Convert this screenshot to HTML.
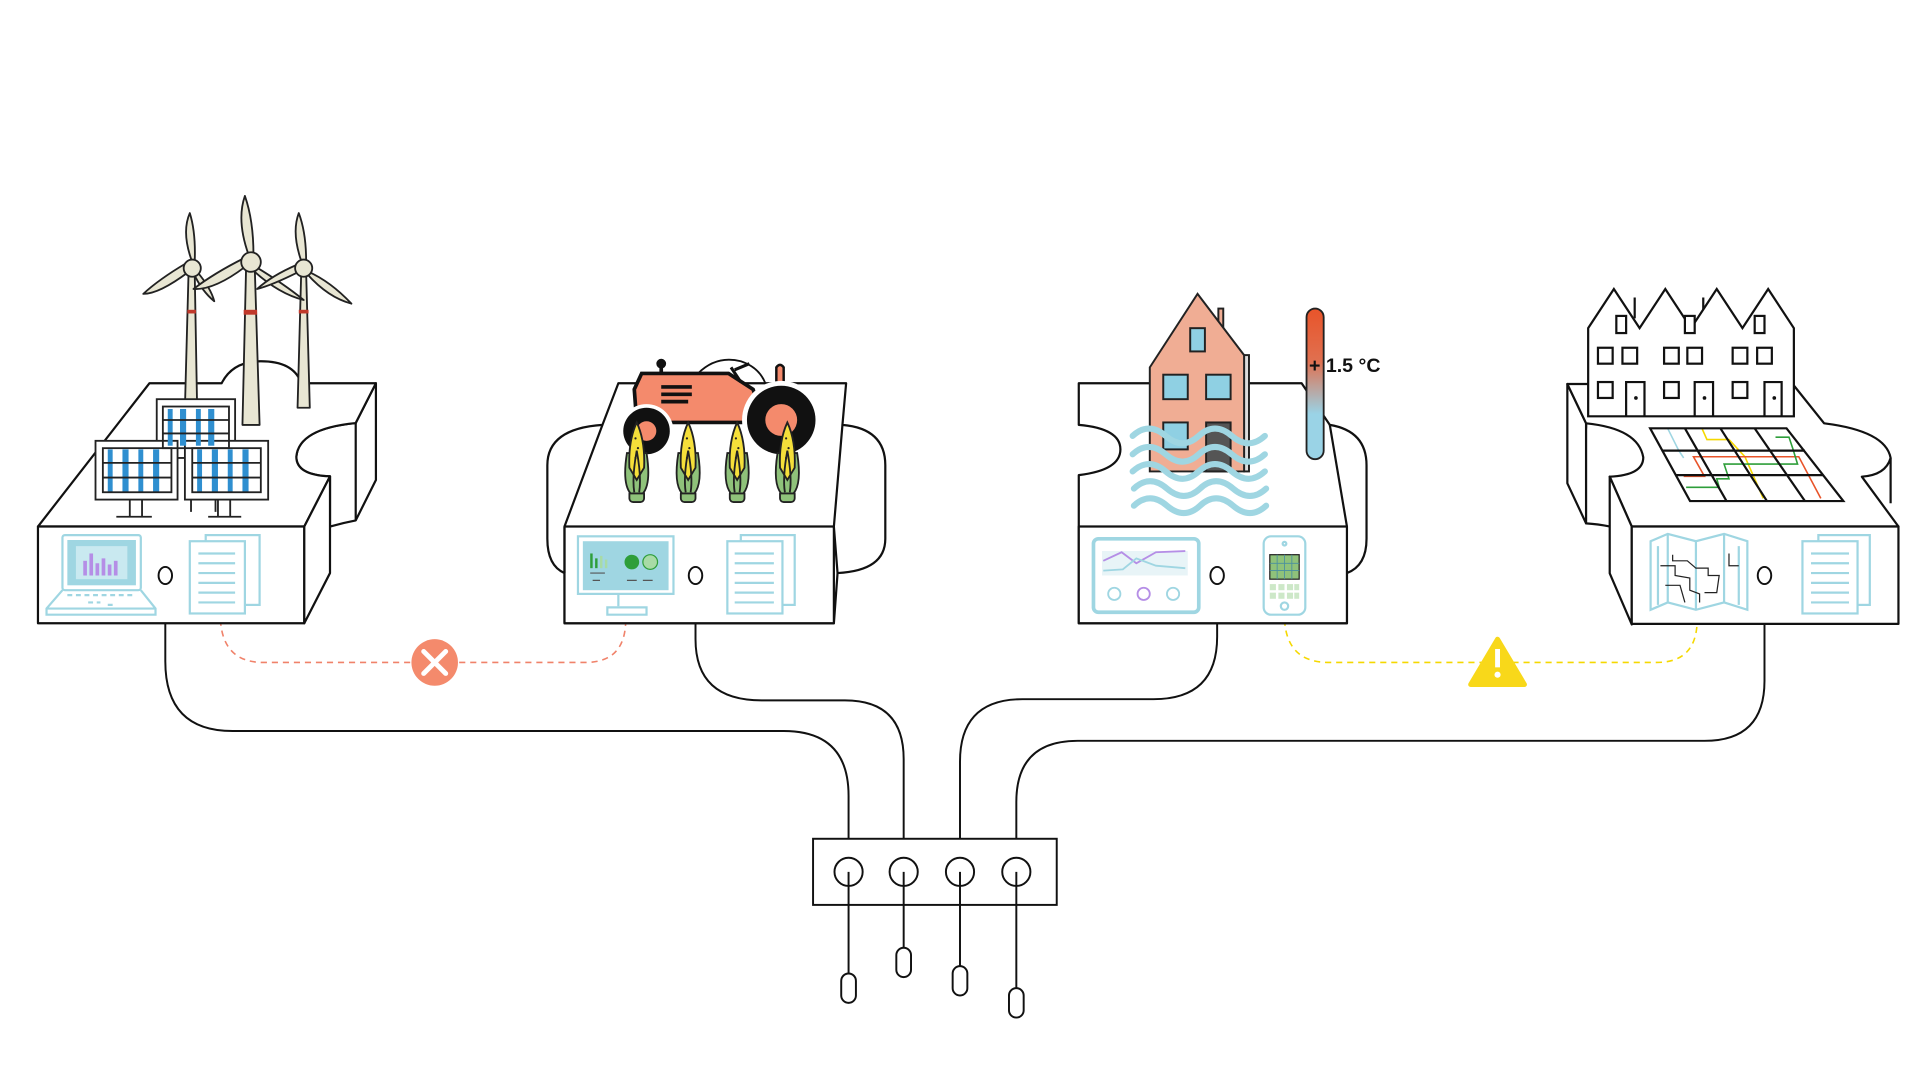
<!DOCTYPE html>
<html><head><meta charset="utf-8"><style>
html,body{margin:0;padding:0;background:#fff;width:1920px;height:1080px;overflow:hidden}
svg{display:block}
</style></head><body>
<svg width="1920" height="1080" viewBox="0 0 1568 882" preserveAspectRatio="none" xmlns="http://www.w3.org/2000/svg">
<defs>
<linearGradient id="th" x1="0" y1="0" x2="0" y2="1"><stop offset="0" stop-color="#e8542a"/><stop offset="0.35" stop-color="#e07050"/><stop offset="0.7" stop-color="#9ad3e6"/><stop offset="1" stop-color="#9ad3e6"/></linearGradient>
</defs>
<g fill="none" stroke="#111" stroke-width="1.6">
<path d="M135,476 V540 Q135,597 190,597 H640 Q693,597 693,650 V685"/>
<path d="M568,476 V522 Q568,572 622,572 H690 Q738,572 738,620 V685"/>
<path d="M994,476 V520 Q994,571 942,571 H835 Q784,571 784,622 V685"/>
<path d="M1441,476 V556 Q1441,605 1392,605 H880 Q830,605 830,655 V685"/>
<rect x="664" y="685" width="199" height="54"/>
<circle cx="693" cy="712" r="11.5"/><circle cx="738" cy="712" r="11.5"/><circle cx="784" cy="712" r="11.5"/><circle cx="830" cy="712" r="11.5"/>
<path d="M693,712V795M738,712V774M784,712V789M830,712V807"/>
<rect x="687" y="795" width="12" height="24" rx="6"/><rect x="732" y="774" width="12" height="24" rx="6"/><rect x="778" y="789" width="12" height="24" rx="6"/><rect x="824" y="807" width="12" height="24" rx="6"/>
</g>
<path d="M180,506 Q182,541 215,541 H478 Q511,541 511,506" fill="none" stroke="#f0826a" stroke-width="1.3" stroke-dasharray="5,4"/>
<path d="M1049,506 Q1051,541 1085,541 H1353 Q1386,541 1386,506" fill="none" stroke="#f5d800" stroke-width="1.3" stroke-dasharray="5,4"/>
<circle cx="355" cy="541" r="19" fill="#f48a6c"/>
<path d="M346,532L364,550M364,532L346,550" stroke="#fff" stroke-width="4" stroke-linecap="round"/>
<path d="M1223,522 L1245,559 H1201 Z" fill="#f8d81a" stroke="#f8d81a" stroke-width="4" stroke-linejoin="round"/>
<rect x="1221" y="530" width="4" height="15" fill="#fff"/><circle cx="1223" cy="551" r="2.5" fill="#fff"/>

<g stroke="#111" stroke-width="1.8" fill="#fff" stroke-linejoin="round">
<path d="M290.5,345.5 L307,313 V392 L290.5,425 Q280,427 269.5,430 V389 Q242,388 242,373 Q244,350 290.5,345.5 Z"/>
<path d="M31,430 L122,313 H181 Q190,295 213,295 Q240,295 246,313 H307 L290.5,345.5 Q244,350 242,373 Q242,388 269.5,389 L248.5,430 Z"/>
<path d="M290.5,345.5 V425"/>
<rect x="31" y="430" width="217.5" height="79"/>
<path d="M248.5,430 L269.5,389 V468 L248.5,509 Z"/>
<path d="M461,468 Q447,462 447,440 V380 Q447,350 492,347 L505,313 H691 L688,347 Q723,350 723,380 V440 Q723,466 684,468 L681,509 H461 Z"/>
<path d="M492,347 L461,430 M688,347 L681,430"/>
<rect x="461" y="430" width="220" height="79"/>
<path d="M461,430 V468 M681,430 L684,468"/>
<path d="M881,313 H1063 L1086,347 Q1116,352 1116,380 V440 Q1116,462 1100,468 V509 H881 V388 Q915,384 915,367 Q915,350 881,347 Z"/>
<path d="M1086,347 L1100,430"/>
<rect x="881" y="430" width="219" height="79"/>
<path d="M1280,313.6 L1295.3,345.7 V427.4 L1280,394.7 Z"/>
<path d="M1295.3,345.7 V427.4 Q1305,428 1315,430"/>
<path d="M1544,374 V411" fill="none"/>
<path d="M1280,313.6 H1464 L1489.7,345.7 Q1540,352 1544,374 Q1540,388 1520.5,389.3 L1550.4,430 H1332.6 L1314.6,389.3 Q1342,388 1342,373.5 Q1338,350 1295.3,345.7 Z"/>
<path d="M1314.6,389.3 V468.2 L1332.6,510 V430 Z"/>
<rect x="1332.6" y="430" width="217.8" height="79.5"/>
</g>
<g fill="#fff" stroke="#111" stroke-width="1.6">
<ellipse cx="135" cy="470" rx="5.5" ry="7"/><ellipse cx="568" cy="470" rx="5.5" ry="7"/><ellipse cx="994" cy="470" rx="5.5" ry="7"/><ellipse cx="1441" cy="470" rx="5.5" ry="7"/>
</g>

<g fill="#e8e6d3" stroke="#222" stroke-width="1.5" stroke-linejoin="round">
<path d="M154,222 L151,334 H161 L159,222 Z"/><path d="M201,217 L198,347 H212 L208,217 Z"/><path d="M246,222 L243,333 H253 L250,222 Z"/>
<g><path d="M157,214 Q148,190 155,174 Q160,190 159,214Z"/><path d="M154,222 Q130,240 117,240 Q130,228 152,215Z"/><path d="M161,222 Q172,235 175,246 Q165,238 158,223Z"/><circle cx="157" cy="219" r="7"/></g>
<g><path d="M203,208 Q193,180 200,160 Q207,180 207,208Z"/><path d="M200,218 Q175,237 158,236 Q175,223 199,211Z"/><path d="M209,218 Q232,232 248,245 Q228,240 208,222Z"/><circle cx="205" cy="214" r="8"/></g>
<g><path d="M246,213 Q238,190 244,174 Q250,190 250,213Z"/><path d="M244,222 Q222,233 210,236 Q222,225 243,216Z"/><path d="M252,222 Q270,230 287,248 Q268,243 251,224Z"/><circle cx="248" cy="219" r="7"/></g>
</g>
<g fill="#c0392b"><rect x="153" y="253" width="7" height="3"/><rect x="199" y="253" width="11" height="4"/><rect x="244" y="253" width="8" height="3"/></g>
<g stroke="#222" stroke-width="1.5">
<path d="M156,374V418M176,374V418M106,408V422M116,408V422M178,408V422M188,408V422" fill="none"/>
<path d="M95,422H124M170,422H197" fill="none"/>
<rect x="128" y="326" width="64" height="48" fill="#fff"/>
<rect x="78" y="360" width="67" height="48" fill="#fff"/>
<rect x="151" y="360" width="68" height="48" fill="#fff"/>
</g>
<g fill="#2f8fd0">
<rect x="137" y="334" width="4" height="30"/><rect x="147" y="334" width="5" height="30"/><rect x="160" y="334" width="4" height="30"/><rect x="170" y="334" width="5" height="30"/>
<rect x="88" y="367" width="4" height="35"/><rect x="100" y="367" width="5" height="35"/><rect x="113" y="367" width="4" height="35"/><rect x="125" y="367" width="5" height="35"/>
<rect x="161" y="367" width="4" height="35"/><rect x="173" y="367" width="5" height="35"/><rect x="186" y="367" width="4" height="35"/><rect x="198" y="367" width="5" height="35"/>
</g>
<g stroke="#222" stroke-width="1.5" fill="none">
<rect x="133" y="332" width="54" height="34"/><path d="M133,343H187M133,354H187"/>
<rect x="84" y="366" width="56" height="36"/><path d="M84,378H140M84,390H140"/>
<rect x="157" y="366" width="56" height="36"/><path d="M157,378H213M157,390H213"/>
</g>
<g stroke="#111" stroke-width="2">
<path d="M540,298V322" stroke-width="3"/><circle cx="540" cy="297" r="3" fill="#111"/>
<path d="M570,305 Q585,290 605,295 Q620,300 625,313" fill="none" stroke-width="1.5"/>
<path d="M634,312V300 Q637,296 640,300V312" fill="#f48a6c" stroke-width="2"/>
<path d="M524,305 H595 L615,318 L625,345 H520 L518,318 Z" fill="#f48a6c" stroke-width="3"/>
<path d="M540,316H565M540,322H565M540,328H562" stroke-width="3"/>
<path d="M597,300 L605,312M600,302L612,297" stroke-width="2.5"/>
</g>
<circle cx="528" cy="352" r="22" fill="#fff"/><circle cx="528" cy="352" r="19" fill="#111"/><circle cx="528" cy="352" r="8" fill="#f48a6c"/>
<circle cx="638" cy="343" r="32" fill="#fff"/><circle cx="638" cy="343" r="28" fill="#111"/><circle cx="638" cy="343" r="13" fill="#f48a6c"/>
<g stroke="#222" stroke-width="1.5">
<g transform="translate(520,0)"><rect x="-6" y="400" width="12" height="10" rx="3" fill="#8fc27a"/><path d="M-8,370 Q-12,395 -5,403 H5 Q12,395 8,370 Z" fill="#8fc27a"/><path d="M0,345 Q-7,360 -6,382 L0,392 L6,382 Q7,360 0,345Z" fill="#f5df3a"/><path d="M0,368 Q-4,390 -2,402 M0,368 Q4,390 2,402" fill="none"/></g>
<g transform="translate(562,0)"><rect x="-6" y="400" width="12" height="10" rx="3" fill="#8fc27a"/><path d="M-8,370 Q-12,395 -5,403 H5 Q12,395 8,370 Z" fill="#8fc27a"/><path d="M0,345 Q-7,360 -6,382 L0,392 L6,382 Q7,360 0,345Z" fill="#f5df3a"/><path d="M0,368 Q-4,390 -2,402 M0,368 Q4,390 2,402" fill="none"/></g>
<g transform="translate(602,0)"><rect x="-6" y="400" width="12" height="10" rx="3" fill="#8fc27a"/><path d="M-8,370 Q-12,395 -5,403 H5 Q12,395 8,370 Z" fill="#8fc27a"/><path d="M0,345 Q-7,360 -6,382 L0,392 L6,382 Q7,360 0,345Z" fill="#f5df3a"/><path d="M0,368 Q-4,390 -2,402 M0,368 Q4,390 2,402" fill="none"/></g>
<g transform="translate(643,0)"><rect x="-6" y="400" width="12" height="10" rx="3" fill="#8fc27a"/><path d="M-8,370 Q-12,395 -5,403 H5 Q12,395 8,370 Z" fill="#8fc27a"/><path d="M0,345 Q-7,360 -6,382 L0,392 L6,382 Q7,360 0,345Z" fill="#f5df3a"/><path d="M0,368 Q-4,390 -2,402 M0,368 Q4,390 2,402" fill="none"/></g>
</g>
<g fill="#222"><circle cx="519" cy="358" r="0.9"/><circle cx="521" cy="366" r="0.9"/><circle cx="519" cy="374" r="0.9"/><circle cx="561" cy="358" r="0.9"/><circle cx="563" cy="366" r="0.9"/><circle cx="561" cy="374" r="0.9"/><circle cx="601" cy="358" r="0.9"/><circle cx="603" cy="366" r="0.9"/><circle cx="601" cy="374" r="0.9"/><circle cx="642" cy="358" r="0.9"/><circle cx="644" cy="366" r="0.9"/><circle cx="642" cy="374" r="0.9"/></g>
<g stroke="#222" stroke-width="1.6">
<rect x="995" y="252" width="4" height="40" fill="#f0ad94"/>
<rect x="1016" y="290" width="4" height="95" fill="#ddd"/>
<path d="M939,300 L978,240 L1016,290 V385 H939 Z" fill="#f0ad94"/>
<rect x="972" y="268" width="12" height="19" fill="#8fd0e3"/>
<rect x="950" y="306" width="20" height="20" fill="#8fd0e3"/><rect x="985" y="306" width="20" height="20" fill="#8fd0e3"/>
<rect x="950" y="345" width="20" height="22" fill="#8fd0e3"/><rect x="985" y="345" width="20" height="40" fill="#555"/>
</g>
<g fill="none" stroke="#9fd6e2" stroke-width="5" stroke-linecap="round">
<path d="M925,356 q13,-12 27,0 t27,0 t27,0 t27,0"/>
<path d="M925,371 q13,-12 27,0 t27,0 t27,0 t27,0"/>
<path d="M925,385 q13,-12 27,0 t27,0 t27,0 t27,0"/>
<path d="M926,399 q13,-12 27,0 t27,0 t27,0 t27,0"/>
<path d="M926,413 q13,-12 27,0 t27,0 t27,0 t27,0"/>
</g>
<rect x="1067" y="252" width="14" height="123" rx="7" fill="url(#th)" stroke="#222" stroke-width="1.5"/>
<text x="1069" y="304" font-family="Liberation Sans, sans-serif" font-weight="bold" font-size="16" fill="#111">+ 1.5 °C</text>
<g stroke="#111" stroke-width="1.8" fill="#fff">
<path d="M1335,243V260M1391,243V260M1448,243V260" fill="none"/>
<path d="M1297,268 L1318,236 L1339,268 L1360,236 L1381,268 L1402,236 L1423,268 L1444,236 L1465,268 V340 H1297 Z"/>
<rect x="1320" y="258" width="8" height="14"/><rect x="1376" y="258" width="8" height="14"/><rect x="1433" y="258" width="8" height="14"/>
<rect x="1305" y="284" width="12" height="13"/><rect x="1325" y="284" width="12" height="13"/><rect x="1359" y="284" width="12" height="13"/><rect x="1378" y="284" width="12" height="13"/><rect x="1415" y="284" width="12" height="13"/><rect x="1435" y="284" width="12" height="13"/>
<rect x="1305" y="312" width="12" height="13"/><rect x="1359" y="312" width="12" height="13"/><rect x="1415" y="312" width="12" height="13"/>
<path d="M1328,340V312H1343V340M1384,340V312H1399V340M1441,340V312H1455V340" fill="none"/>
</g>
<g fill="#111"><circle cx="1336" cy="325" r="1.5"/><circle cx="1392" cy="325" r="1.5"/><circle cx="1449" cy="325" r="1.5"/></g>
<g fill="none" stroke-width="1.3">
<path d="M1362,350 L1371,368 L1375,374" stroke="#9fd6e2"/>
<path d="M1390,350 L1394,359 H1412 L1425,373 L1440,407" stroke="#f5d800"/>
<path d="M1375,389 H1392 L1383,373 H1469 L1487,407" stroke="#e8542a"/>
<path d="M1450,357 H1461 L1464,366 L1468,379 H1408 L1412,391 H1402 L1404,398 H1377" stroke="#2e9e3a"/>
</g>
<g fill="none" stroke="#111" stroke-width="1.8">
<path d="M1347.6,349.8 H1459 L1505.4,409.2 H1380.2 Z"/>
<path d="M1357,368 H1474 M1368,388 H1489 M1376,349.8 L1410,409.2 M1405,349.8 L1443,409.2 M1433,349.8 L1474,409.2"/>
</g>
<g fill="none" stroke="#9fd6e2" stroke-width="1.8">
<rect x="51" y="437" width="64" height="45" rx="2"/>
<path d="M51,482 L38,497 V502 H127 V497 L115,482 M38,497 H127"/>
<path d="M55,486H110M72,492H82M88,494H95" stroke-dasharray="4,3"/>
<rect x="168" y="437" width="44" height="57"/><rect x="155" y="442" width="45" height="59" fill="#fff"/>
<path d="M162,452H192M162,460H192M162,468H192M162,476H192M162,484H192M162,492H192"/>
<rect x="472" y="438" width="78" height="47"/><path d="M505,485V495M496,496H528V502H496Z"/>
<rect x="605" y="437" width="44" height="57"/><rect x="594" y="442" width="45" height="59" fill="#fff"/>
<path d="M600,452H632M600,460H632M600,468H632M600,476H632M600,484H632M600,492H632"/>
<rect x="893" y="440" width="86" height="60" rx="4" stroke-width="3"/>
<rect x="1032" y="438" width="34" height="64" rx="6"/>
<circle cx="1049" cy="495" r="3"/><circle cx="1049" cy="444" r="1.5"/>
<path d="M1348,442 L1362,436 L1385,442 L1408,436 L1427,442 V498 L1408,492 L1385,498 L1362,492 L1348,498 Z"/>
<path d="M1362,436V492M1385,442V498M1408,436V492M1354,446V494M1420,446V494"/>
<rect x="1485" y="437" width="42" height="57"/><rect x="1472" y="442" width="45" height="59" fill="#fff"/>
<path d="M1479,452H1510M1479,460H1510M1479,468H1510M1479,476H1510M1479,484H1510M1479,492H1510"/>
</g>
<rect x="55" y="441" width="56" height="37" fill="#9fd6e2"/>
<rect x="62" y="446" width="42" height="27" fill="#c9e9f0"/>
<g fill="#b58ee6"><rect x="68" y="458" width="3" height="12"/><rect x="73" y="452" width="3" height="18"/><rect x="78" y="460" width="3" height="10"/><rect x="83" y="456" width="3" height="14"/><rect x="88" y="461" width="3" height="9"/><rect x="93" y="458" width="3" height="12"/></g>
<rect x="476" y="442" width="70" height="40" fill="#9fd6e2"/>
<g fill="#2e9e3a"><rect x="482" y="452" width="2" height="12"/><rect x="486" y="456" width="2" height="8"/></g>
<g fill="#a8dba6"><rect x="490" y="454" width="2" height="10"/><rect x="494" y="457" width="2" height="7"/></g>
<circle cx="516" cy="459" r="6" fill="#2e9e3a"/><circle cx="531" cy="459" r="6" fill="#a8dba6" stroke="#2e9e3a"/>
<path d="M482,468H494M484,474H490M512,474H520M525,474H533" stroke="#555" stroke-width="1"/>
<rect x="900" y="450" width="70" height="20" fill="#e8f4f7"/>
<path d="M901,458 L916,451 L928,460 L944,451 L968,450" fill="none" stroke="#b58ee6" stroke-width="1.5"/>
<path d="M901,466 L917,465 L928,456 L944,462 L968,464" fill="none" stroke="#9fd6e2" stroke-width="1.5"/>
<circle cx="910" cy="485" r="5" fill="none" stroke="#9fd6e2" stroke-width="1.5"/><circle cx="934" cy="485" r="5" fill="none" stroke="#b58ee6" stroke-width="1.5"/><circle cx="958" cy="485" r="5" fill="none" stroke="#9fd6e2" stroke-width="1.5"/>
<rect x="1037" y="453" width="24" height="20" fill="#8fc27a" stroke="#222" stroke-width="1"/>
<path d="M1037,460H1061M1037,466H1061M1043,453V473M1049,453V473M1055,453V473" stroke="#4a90a0" stroke-width="0.7"/>
<g fill="#cde8c8"><rect x="1037" y="477" width="5" height="5"/><rect x="1044" y="477" width="5" height="5"/><rect x="1051" y="477" width="5" height="5"/><rect x="1057" y="477" width="4" height="5"/><rect x="1037" y="484" width="5" height="5"/><rect x="1044" y="484" width="5" height="5"/><rect x="1051" y="484" width="5" height="5"/><rect x="1057" y="484" width="4" height="5"/></g>
<path d="M1356,462 H1368 V470 L1380,472 V482 L1388,485 V492 M1366,453 V458 H1378 L1385,464 H1395 V470 H1404 L1402,484 H1392 M1412,452 V462 H1420 M1360,478 H1372 L1376,492" fill="none" stroke="#222" stroke-width="1"/>
</svg>
</body></html>
